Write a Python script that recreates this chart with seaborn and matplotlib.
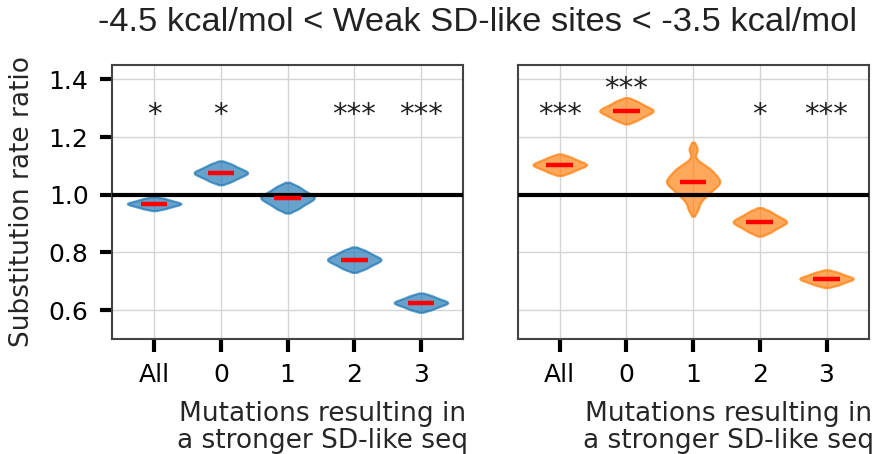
import numpy as np
import pandas as pd
import matplotlib
matplotlib.use("Agg")
import matplotlib.pyplot as plt
import seaborn as sns
from matplotlib.colors import to_rgba

# Categories: number of mutations that give a stronger SD-like sequence
categories = ["All", "0", "1", "2", "3"]

# Substitution rate ratio samples, left panel (blue)
left_all = [0.951, 0.9565, 0.9605, 0.9638, 0.9666, 0.969, 0.9714, 0.9742, 0.9775, 0.9815, 0.987]
left_0 = [1.045, 1.0547, 1.0614, 1.0672, 1.0719, 1.076, 1.0801, 1.0848, 1.0906, 1.0973, 1.107]
left_1 = [0.950, 0.9624, 0.9712, 0.9786, 0.9847, 0.990, 0.9953, 1.0014, 1.0088, 1.0176, 1.030]
left_2 = [0.742, 0.7521, 0.7594, 0.7655, 0.7706, 0.775, 0.7794, 0.7845, 0.7906, 0.7979, 0.808]
left_3 = [0.601, 0.6088, 0.6143, 0.6189, 0.6227, 0.626, 0.6293, 0.6331, 0.6377, 0.6432, 0.651]

# Substitution rate ratio samples, right panel (orange)
right_all = [1.076, 1.0848, 1.0909, 1.096, 1.1003, 1.104, 1.1077, 1.112, 1.1171, 1.1232, 1.132]
right_0 = [1.257, 1.2676, 1.275, 1.2813, 1.2865, 1.291, 1.2955, 1.3007, 1.307, 1.3144, 1.325]
right_1 = [0.950, 0.978, 0.995, 1.005, 1.014, 1.022, 1.030, 1.037, 1.042, 1.045,
           1.050, 1.057, 1.064, 1.071, 1.078, 1.086, 1.095, 1.107, 1.158]
right_2 = [0.869, 0.8805, 0.8886, 0.8955, 0.9011, 0.906, 0.9109, 0.9165, 0.9234, 0.9315, 0.943]
right_3 = [0.686, 0.6929, 0.698, 0.7023, 0.7059, 0.709, 0.7121, 0.7157, 0.720, 0.7251, 0.732]

# Significance markers and their heights
left_stars = ["*", "*", "", "***", "***"]
left_star_y = [1.25, 1.25, 1.25, 1.25, 1.25]
right_stars = ["***", "***", "", "*", "***"]
right_star_y = [1.25, 1.34, 1.25, 1.25, 1.25]

title = "-4.5 kcal/mol < Weak SD-like sites < -3.5 kcal/mol"
ylabel = "Substitution rate ratio"
xlabel = "Mutations resulting in\na stronger SD-like seq"

BLUE = "#1f77b4"
ORANGE = "#ff7f0e"


def make_frame(groups):
    rows = []
    for cat, vals in zip(categories, groups):
        for v in vals:
            rows.append({"cat": cat, "val": v})
    return pd.DataFrame(rows)


left_df = make_frame([left_all, left_0, left_1, left_2, left_3])
right_df = make_frame([right_all, right_0, right_1, right_2, right_3])

sns.set_style("whitegrid")
plt.rcParams["font.family"] = ["DejaVu Sans"]

fig = plt.figure(figsize=(8.76, 4.54), dpi=100)
ax_l = fig.add_axes([0.128, 0.2533, 0.4005, 0.6037])
ax_r = fig.add_axes([0.591, 0.2533, 0.4005, 0.6037], sharey=ax_l)

for ax, df, color, stars, star_y in [
    (ax_l, left_df, BLUE, left_stars, left_star_y),
    (ax_r, right_df, ORANGE, right_stars, right_star_y),
]:
    sns.violinplot(data=df, x="cat", y="val", order=categories, color=color,
                   inner=None, cut=1.5, bw_adjust=0.6, density_norm="width",
                   width=0.8, linewidth=1.6, ax=ax)
    for coll in ax.collections:
        coll.set_facecolor(to_rgba(color, 0.68))
        coll.set_edgecolor(to_rgba(color, 0.72))

    meds = df.groupby("cat", sort=False)["val"].median().reindex(categories).values
    pos = np.arange(len(categories))
    ax.hlines(meds, pos - 0.2, pos + 0.2, color="red", lw=3.2, zorder=5)
    ax.axhline(1.0, color="black", lw=3, zorder=4)

    for p, s, yv in zip(pos, stars, star_y):
        if s:
            ax.text(p, yv, s, ha="center", va="baseline", fontsize=21,
                    color="#222222")

    ax.set_xlim(-0.63, 4.63)
    ax.set_ylim(0.5, 1.45)
    ax.grid(True, color="#d4d4d4", lw=1.0)
    ax.set_axisbelow(True)
    for sp in ax.spines.values():
        sp.set_visible(True)
        sp.set_color("#444444")
        sp.set_linewidth(1.5)
    ax.tick_params(axis="x", which="major", direction="out", length=9,
                   width=3, color="black", pad=8, labelsize=18,
                   labelcolor="black", bottom=True)
    ax.set_xlabel(xlabel, fontsize=19, linespacing=1.05)
    ax.xaxis.set_label_coords(0.6, -0.225)

ax_l.set_ylabel(ylabel, fontsize=19, labelpad=10)
ax_l.set_yticks([0.6, 0.8, 1.0, 1.2, 1.4])
ax_l.tick_params(axis="y", which="major", direction="out", length=9,
                 width=3, color="black", pad=8, labelsize=18,
                 labelcolor="black", left=True)
ax_r.set_ylabel("")
ax_r.tick_params(axis="y", left=False, labelleft=False)

fig.suptitle(title, x=0.545, y=0.985, va="top", fontsize=24.8,
             family=["Liberation Sans", "DejaVu Sans"], color="#222222")

fig.savefig("out.png", dpi=100)
